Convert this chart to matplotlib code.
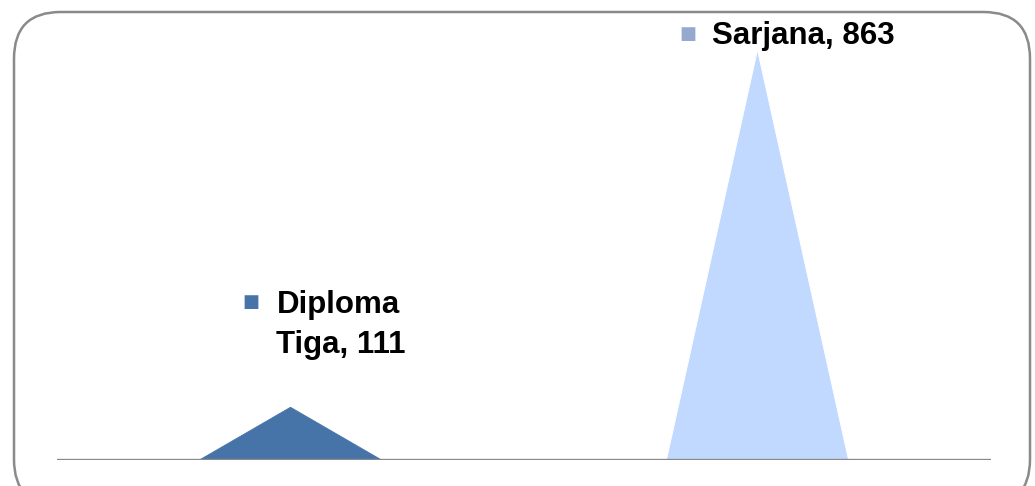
import matplotlib.pyplot as plt
from matplotlib.patches import FancyBboxPatch

plt.rcParams['font.family'] = ['Liberation Sans', 'DejaVu Sans']

categories = ['Diploma\nTiga', 'Sarjana']
values = [111, 863]
colors = ['#4674A8', '#C2D9FF']
marker_colors = ['#4674A8', '#95A9CF']

fig = plt.figure(figsize=(10.35, 4.86), dpi=100)

# rounded frame around the chart
frame = FancyBboxPatch((14 / 1035, -20 / 486), 1016 / 1035, 494 / 486,
                       boxstyle='round,pad=0,rounding_size=0.045',
                       transform=fig.transFigure, facecolor='none',
                       edgecolor='#8a8a8a', linewidth=1.8, mutation_aspect=1035 / 486,
                       zorder=-1)
fig.patches.append(frame)

ax = fig.add_axes([57 / 1035, 26 / 486, 934 / 1035, 427.5 / 486])
ax.set_xlim(-0.5, 1.5)
ax.set_ylim(0, 900)
ax.patch.set_alpha(0)

half = 0.195
for i, (v, c) in enumerate(zip(values, colors)):
    ax.fill([i - half, i, i + half], [0, v, 0], color=c, linewidth=0.6,
            edgecolor='white' if i == 1 else c, zorder=2)

ax.axhline(0, color='#8a8a8a', linewidth=2.4, zorder=3)
for s in ax.spines.values():
    s.set_visible(False)
ax.set_xticks([])
ax.set_yticks([])

# data labels with legend keys
label_pos = [(-14, 82), (-45, 14)]
key_pos = [(-40, 105), (-70, 16)]
for i, (cat, v) in enumerate(zip(categories, values)):
    ax.annotate(f'{cat}, {v}', (i, v), xytext=label_pos[i], textcoords='offset pixels',
                ha='left', va='center', fontsize=22.5, fontweight='bold',
                linespacing=1.43, annotation_clip=False)
    ax.annotate('\u25a0', (i, v), xytext=key_pos[i], textcoords='offset pixels',
                ha='center', va='center', fontsize=13, color=marker_colors[i],
                family='DejaVu Sans', annotation_clip=False)

fig.savefig('out.png', dpi=100)
